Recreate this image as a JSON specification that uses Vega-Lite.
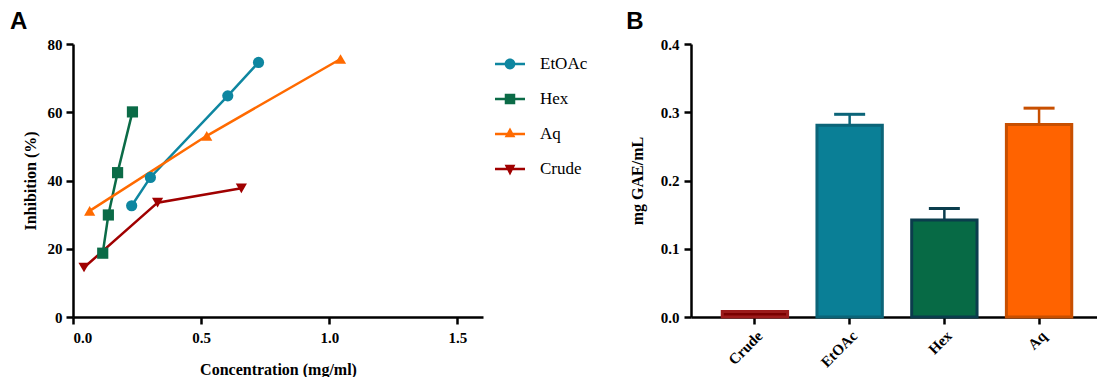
{
  "$schema": "https://vega.github.io/schema/vega-lite/v6.json",
  "background": "white",
  "padding": {"left": 10, "top": 10, "right": 0, "bottom": 0},
  "spacing": 33,
  "config": {
    "view": {"stroke": null},
    "title": {"font": "Liberation Sans", "fontSize": 24, "fontWeight": "bold", "anchor": "start", "color": "black"},
    "axis": {
      "grid": false,
      "domainColor": "black", "domainWidth": 2.5,
      "tickColor": "black", "tickWidth": 2.5, "tickSize": 7,
      "labelFont": "Liberation Serif", "labelFontWeight": "bold", "labelFontSize": 15, "labelColor": "black",
      "titleFont": "Liberation Serif", "titleFontWeight": "bold", "titleFontSize": 16, "titleColor": "black"
    }
  },
  "hconcat": [
    {
      "title": {"text": "A", "dx": -12, "offset": 3},
      "width": 410,
      "height": 273,
      "data": {"values": [
        {"series": "EtOAc", "conc": 0.229, "inhib": 32.6},
        {"series": "EtOAc", "conc": 0.302, "inhib": 40.9},
        {"series": "EtOAc", "conc": 0.604, "inhib": 64.8},
        {"series": "EtOAc", "conc": 0.724, "inhib": 74.6},
        {"series": "Hex", "conc": 0.116, "inhib": 18.7},
        {"series": "Hex", "conc": 0.138, "inhib": 29.9},
        {"series": "Hex", "conc": 0.174, "inhib": 42.3},
        {"series": "Hex", "conc": 0.232, "inhib": 60.1},
        {"series": "Aq", "conc": 0.065, "inhib": 31.1},
        {"series": "Aq", "conc": 0.522, "inhib": 53.1},
        {"series": "Aq", "conc": 1.044, "inhib": 75.6},
        {"series": "Crude", "conc": 0.043, "inhib": 14.5},
        {"series": "Crude", "conc": 0.330, "inhib": 33.5},
        {"series": "Crude", "conc": 0.657, "inhib": 37.7}
      ]},
      "layer": [
        {
          "mark": {"type": "line", "strokeWidth": 2.5},
          "encoding": {
            "x": {"field": "conc", "type": "quantitative", "scale": {"domain": [0, 1.5]},
                  "axis": {"title": "Concentration (mg/ml)", "values": [0, 0.5, 1, 1.5], "format": ".1f", "labelPadding": 6, "titlePadding": 16}},
            "y": {"field": "inhib", "type": "quantitative", "scale": {"domain": [0, 80]},
                  "axis": {"title": "Inhibition (%)", "values": [0, 20, 40, 60, 80], "labelPadding": 4, "titlePadding": 9}},
            "color": {"field": "series", "type": "nominal",
                      "scale": {"domain": ["EtOAc", "Hex", "Aq", "Crude"], "range": ["#0E86A0", "#0B6B47", "#FF6A00", "#A00000"]},
                      "legend": null}
          }
        },
        {
          "mark": {"type": "point", "filled": true, "opacity": 1, "size": 125},
          "encoding": {
            "x": {"field": "conc", "type": "quantitative"},
            "y": {"field": "inhib", "type": "quantitative"},
            "color": {"field": "series", "type": "nominal",
                      "scale": {"domain": ["EtOAc", "Hex", "Aq", "Crude"], "range": ["#0E86A0", "#0B6B47", "#FF6A00", "#A00000"]},
                      "legend": null},
            "shape": {"field": "series", "type": "nominal",
                      "scale": {"domain": ["EtOAc", "Hex", "Aq", "Crude"], "range": ["circle", "square", "triangle-up", "triangle-down"]},
                      "legend": null}
          }
        },
        {
          "transform": [{"filter": "false"}],
          "mark": {"type": "point", "filled": true, "opacity": 1},
          "encoding": {
            "x": {"field": "conc", "type": "quantitative"},
            "y": {"field": "inhib", "type": "quantitative"},
            "color": {"field": "series", "type": "nominal",
                      "scale": {"domain": ["EtOAc", "Hex", "Aq", "Crude"], "range": ["#0E86A0", "#0B6B47", "#FF6A00", "#A00000"]},
                      "legend": {"title": null, "orient": "right", "offset": 7, "padding": 5, "symbolSize": 900, "symbolStrokeWidth": 0, "symbolOpacity": 1,
                                 "labelFont": "Liberation Serif", "labelFontSize": 17, "labelColor": "black", "labelOffset": 15, "rowPadding": 12}},
            "shape": {"field": "series", "type": "nominal",
                      "scale": {"domain": ["EtOAc", "Hex", "Aq", "Crude"],
                                "range": [
                                  "M-1,-0.09H1V0.09H-1Z M0.36,0A0.36,0.36 0 1,1 -0.36,0A0.36,0.36 0 1,1 0.36,0Z",
                                  "M-1,-0.09H1V0.09H-1Z M-0.35,-0.35H0.35V0.35H-0.35Z",
                                  "M-1,-0.09H1V0.09H-1Z M0,-0.44L0.36,0.22H-0.36Z",
                                  "M-1,-0.09H1V0.09H-1Z M0,0.44L-0.36,-0.29H0.36Z"
                                ]},
                      "legend": {"title": null, "orient": "right", "offset": 7, "padding": 5, "symbolSize": 900, "symbolStrokeWidth": 0, "symbolOpacity": 1,
                                 "labelFont": "Liberation Serif", "labelFontSize": 17, "labelColor": "black", "labelOffset": 15, "rowPadding": 12}}
          }
        }
      ],
      "resolve": {
        "scale": {"color": "independent", "shape": "independent"},
        "legend": {"color": "independent", "shape": "independent"}
      }
    },
    {
      "title": {"text": "B", "dx": -3, "offset": 3},
      "width": 412,
      "height": 273,
      "data": {"values": [
        {"sample": "Crude", "value": 0.008, "upper": 0.008},
        {"sample": "EtOAc", "value": 0.281, "upper": 0.297},
        {"sample": "Hex", "value": 0.142, "upper": 0.159},
        {"sample": "Aq", "value": 0.282, "upper": 0.306}
      ]},
      "encoding": {
        "x": {"field": "sample", "type": "nominal", "sort": ["Crude", "EtOAc", "Hex", "Aq"],
              "scale": {"paddingInner": 0.31, "paddingOuter": 0.33},
              "axis": {"title": null, "labelAngle": -45, "labelPadding": 4}}
      },
      "layer": [
        {
          "mark": {"type": "rule", "strokeWidth": 2.5},
          "encoding": {
            "y": {"field": "value", "type": "quantitative", "scale": {"domain": [0, 0.4]},
                  "axis": {"title": "mg GAE/mL", "values": [0, 0.1, 0.2, 0.3, 0.4], "format": ".1f", "labelPadding": 5, "titlePadding": 15}},
            "y2": {"field": "upper"},
            "stroke": {"field": "sample", "type": "nominal",
                       "scale": {"domain": ["Crude", "EtOAc", "Hex", "Aq"], "range": ["#9B1B1B", "#0B6478", "#0B3D4D", "#C84F00"]},
                       "legend": null}
          }
        },
        {
          "mark": {"type": "tick", "thickness": 3, "size": 31, "opacity": 1},
          "encoding": {
            "y": {"field": "upper", "type": "quantitative"},
            "color": {"field": "sample", "type": "nominal",
                      "scale": {"domain": ["Crude", "EtOAc", "Hex", "Aq"], "range": ["#9B1B1B", "#0B6478", "#0B3D4D", "#C84F00"]},
                      "legend": null}
          }
        },
        {
          "mark": {"type": "bar", "strokeWidth": 3},
          "encoding": {
            "y": {"field": "value", "type": "quantitative"},
            "fill": {"field": "sample", "type": "nominal",
                     "scale": {"domain": ["Crude", "EtOAc", "Hex", "Aq"], "range": ["#7A0000", "#0A7F96", "#076A45", "#FF6300"]},
                     "legend": null},
            "stroke": {"field": "sample", "type": "nominal", "legend": null}
          }
        }
      ]
    }
  ]
}
